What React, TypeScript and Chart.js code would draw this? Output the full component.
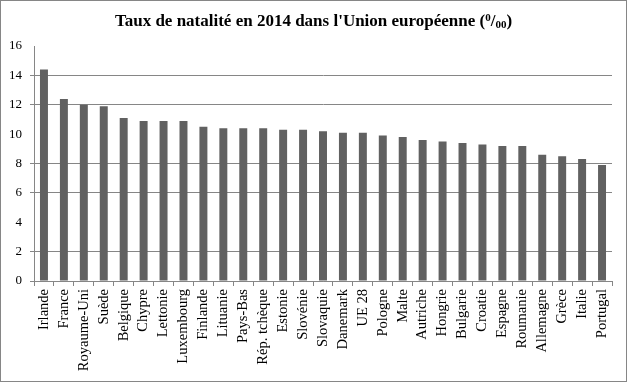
import React, { useEffect, useRef } from "react";
import { Chart, registerables } from "chart.js";

Chart.register(...registerables);

const categories = [
  "Irlande", "France", "Royaume-Uni", "Suède", "Belgique", "Chypre", "Lettonie",
  "Luxembourg", "Finlande", "Lituanie", "Pays-Bas", "Rép. tchèque", "Estonie",
  "Slovénie", "Slovaquie", "Danemark", "UE 28", "Pologne", "Malte", "Autriche",
  "Hongrie", "Bulgarie", "Croatie", "Espagne", "Roumanie", "Allemagne", "Grèce",
  "Italie", "Portugal",
];

const birthRates = [
  14.4, 12.4, 12.0, 11.9, 11.1, 10.9, 10.9, 10.9, 10.5, 10.4, 10.4, 10.4, 10.3,
  10.3, 10.2, 10.1, 10.1, 9.9, 9.8, 9.6, 9.5, 9.4, 9.3, 9.2, 9.2, 8.6, 8.5, 8.3, 7.9,
];

const yTicks = [0, 2, 4, 6, 8, 10, 12, 14, 16];
const hiddenGridValues = [4, 10, 16];

const titleMain = "Taux de natalité en 2014 dans l'Union européenne (";
const titleSup = "0";
const titleSlash = "/";
const titleSub = "00";
const titleEnd = ")";

const SERIF = "'Liberation Serif', 'Times New Roman', serif";

const titlePlugin = {
  id: "customTitle",
  afterDraw(chart: any) {
    const ctx = chart.ctx;
    ctx.save();
    ctx.fillStyle = "#000";
    ctx.textBaseline = "alphabetic";
    const big = `bold 17px ${SERIF}`;
    const small = `bold 11px ${SERIF}`;
    ctx.font = big;
    const w1 = ctx.measureText(titleMain).width;
    const wSlash = ctx.measureText(titleSlash).width;
    const wEnd = ctx.measureText(titleEnd).width;
    ctx.font = small;
    const wSup = ctx.measureText(titleSup).width;
    const wSub = ctx.measureText(titleSub).width;
    const total = w1 + wSup + wSlash + wSub + wEnd;
    const cx = 312.5;
    const base = 25;
    let x = cx - total / 2;
    ctx.font = big;
    ctx.fillText(titleMain, x, base);
    x += w1;
    ctx.font = small;
    ctx.fillText(titleSup, x, base - 5);
    x += wSup;
    ctx.font = big;
    ctx.fillText(titleSlash, x, base);
    x += wSlash;
    ctx.font = small;
    ctx.fillText(titleSub, x, base + 2);
    x += wSub;
    ctx.font = big;
    ctx.fillText(titleEnd, x, base);
    ctx.restore();
  },
};

export default function App() {
  const canvasRef = useRef<HTMLCanvasElement | null>(null);

  useEffect(() => {
    document.body.style.margin = "0";
    const canvas = canvasRef.current;
    if (!canvas) return;
    const chart = new Chart(canvas, {
      type: "bar",
      data: {
        labels: categories,
        datasets: [
          {
            data: birthRates,
            backgroundColor: "#616161",
            borderWidth: 0,
            barPercentage: 0.4,
            categoryPercentage: 1,
          },
        ],
      },
      options: {
        responsive: false,
        animation: false,
        devicePixelRatio: 1,
        layout: { padding: { top: 45, right: 14, bottom: 0, left: 0 } },
        plugins: {
          legend: { display: false },
          title: { display: false },
          tooltip: { enabled: false },
        },
        scales: {
          x: {
            offset: true,
            grid: {
              offset: true,
              drawOnChartArea: false,
              drawTicks: true,
              tickLength: 5,
              color: "#868686",
            },
            border: { color: "#868686", width: 1 },
            ticks: {
              autoSkip: false,
              minRotation: 90,
              maxRotation: 90,
              padding: 3,
              color: "#000",
              font: { family: SERIF, size: 14.5 },
            },
            afterFit(scale: any) {
              scale.height = 100;
            },
          },
          y: {
            min: 0,
            max: 16,
            afterBuildTicks(scale: any) {
              scale.ticks = yTicks.map((v) => ({ value: v }));
            },
            grid: {
              color: (c: any) =>
                c.tick && hiddenGridValues.includes(c.tick.value) ? "rgba(0,0,0,0)" : "#868686",
              tickLength: 4,
            },
            border: { color: "#868686", width: 1 },
            ticks: {
              padding: 8,
              color: "#000",
              font: { family: SERIF, size: 13 },
            },
            afterFit(scale: any) {
              scale.width = 33;
            },
          },
        },
      },
      plugins: [titlePlugin],
    });
    return () => chart.destroy();
  }, []);

  return (
    <div
      style={{
        position: "absolute",
        left: 0,
        top: 0,
        width: 627,
        height: 382,
        boxSizing: "border-box",
        border: "1px solid #868686",
        background: "#fff",
      }}
    >
      <canvas ref={canvasRef} width={625} height={380} style={{ display: "block" }} />
    </div>
  );
}
